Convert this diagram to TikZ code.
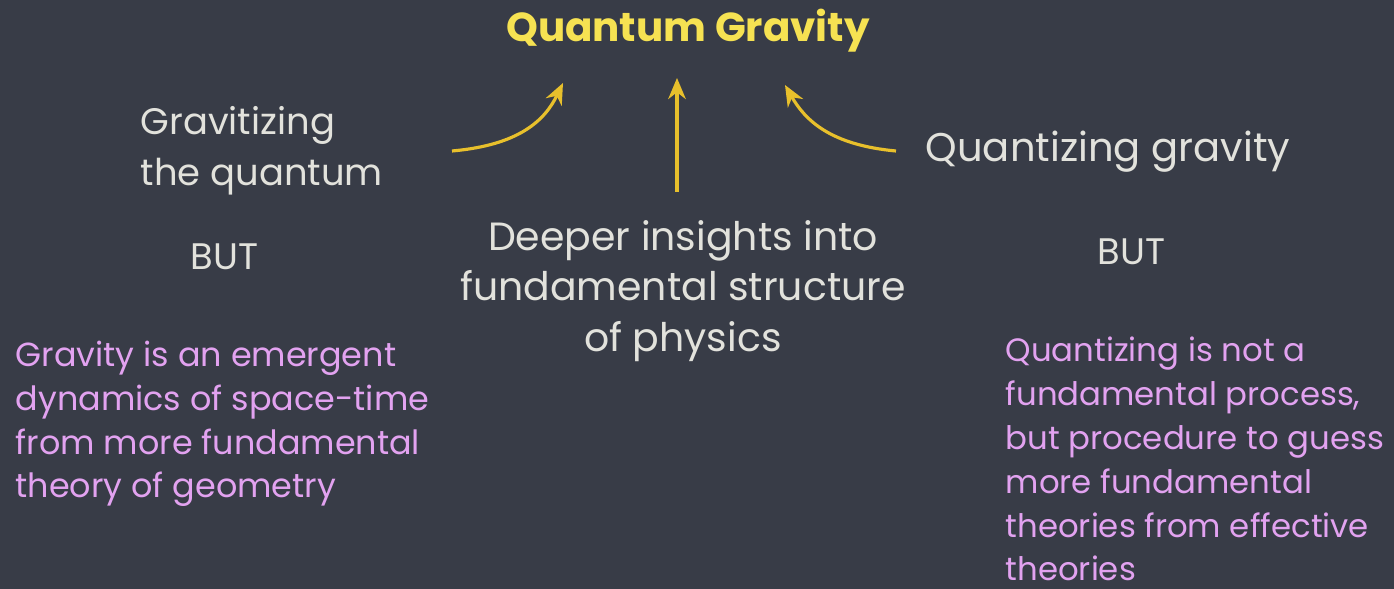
\documentclass[tikz,border=0pt]{standalone}
\usepackage{fontspec}
\setmainfont{Poppins}
\definecolor{board}{RGB}{56,60,71}
\definecolor{chalkyellow}{RGB}{246,226,82}
\definecolor{arrowyellow}{RGB}{232,192,44}
\definecolor{chalkwhite}{RGB}{226,226,220}
\definecolor{chalkpink}{RGB}{226,162,240}
\usetikzlibrary{arrows.meta,positioning}

\begin{document}
\begin{tikzpicture}[x=0.01cm,y=-0.01cm,
    whitetext/.style={font=\fontsize{10.5}{14.5}\selectfont, text=chalkwhite, inner sep=0pt},
    pinktext/.style={font=\fontsize{9.5}{12.5}\selectfont, text=chalkpink, inner sep=0pt, align=left},
    chalkarrow/.style={arrowyellow, line width=0.9pt, -{Stealth[length=6pt,width=5pt]}}]
  % Board
  \fill[board] (0,0) rectangle (1394,589);
  \useasboundingbox (0,0) rectangle (1394,589);

  % Title
  \node[font=\fontsize{11.5}{14}\selectfont\bfseries, text=chalkyellow, inner sep=0pt, anchor=base] (qg) at (688,42) {Quantum Gravity};

  % Left side (base = last line)
  \node[whitetext, align=left, anchor=base west] (gravq) at (140,186) {Gravitizing\\the quantum};
  \node[whitetext, anchor=base west] (butl) at (190,270) {BUT};
  \node[pinktext, anchor=base west] (emerg) at (15,498) {Gravity is an emergent\\dynamics of space-time\\from more fundamental\\theory of geometry};

  % Right side
  \node[whitetext, font=\fontsize{11.4}{14.5}\selectfont, anchor=base west] (quantg) at (925,162) {Quantizing gravity};
  \node[whitetext, anchor=base west] (butr) at (1097,265) {BUT};
  \node[pinktext, font=\fontsize{9.2}{12.5}\selectfont, anchor=base west] (proc) at (1005,581) {Quantizing is not a\\fundamental process,\\but procedure to guess\\more fundamental\\theories from effective\\theories};

  % Centre
  \node[whitetext, font=\fontsize{11.2}{14.5}\selectfont, align=center, anchor=base] (deeper) at (683,352) {Deeper insights into\\fundamental structure\\of physics};

  % Arrows
  \coordinate (la) at (452,151);
  \coordinate (lb) at (563,83);
  \coordinate (ra) at (896,151);
  \coordinate (rb) at (785,85);
  \coordinate (ca) at (677,192);
  \coordinate (cb) at (677,78);
  \draw[chalkarrow] (la) .. controls (520,145) and (545,120) .. (lb);
  \draw[chalkarrow] (ca) -- (cb);
  \draw[chalkarrow] (ra) .. controls (830,145) and (805,120) .. (rb);
\end{tikzpicture}
\end{document}
